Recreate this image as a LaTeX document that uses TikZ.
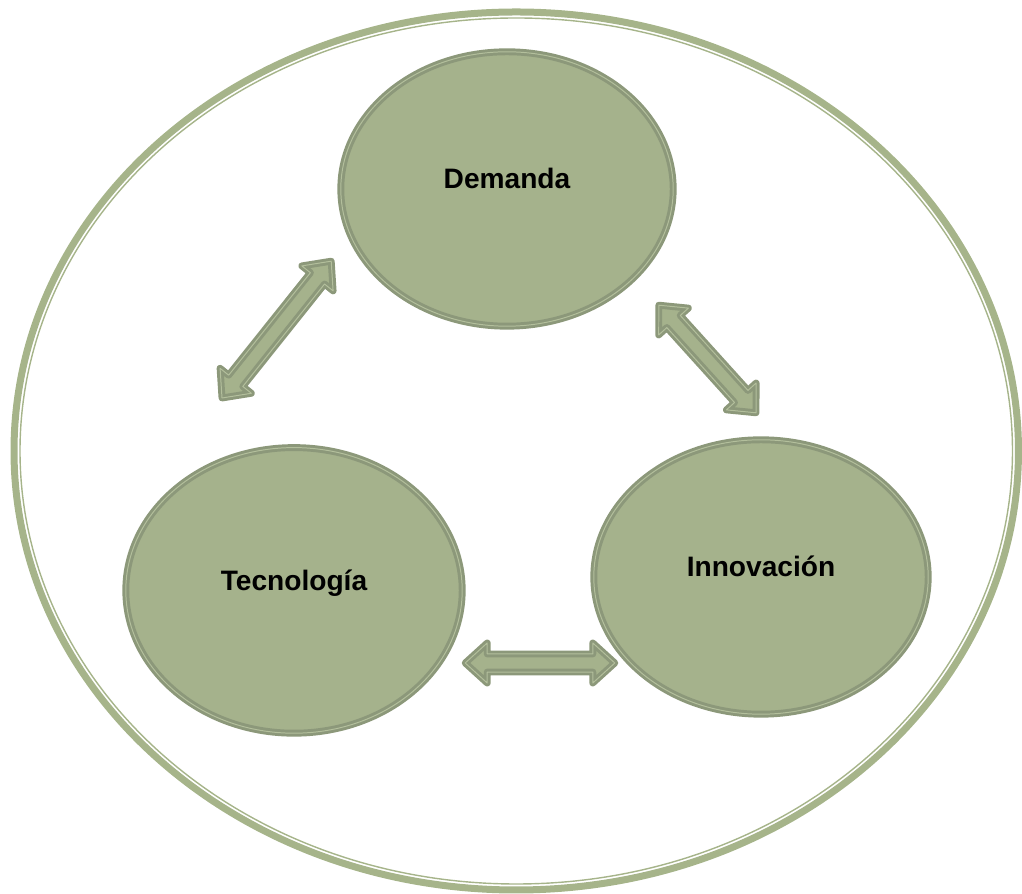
\documentclass[tikz,border=0pt]{standalone}
\usepackage{fontspec}
\setmainfont{Liberation Sans}
\usepackage{xcolor}
\usepackage{tikz}
\usetikzlibrary{shapes.geometric, calc}
\definecolor{bubfill}{HTML}{A5B28C}
\definecolor{bubdark}{HTML}{8C987A}
\definecolor{bubline}{HTML}{B3BF9C}
\definecolor{ringcol}{HTML}{A6B48A}
\tikzset{
  bubble/.style={ellipse, draw=bubdark, double=bubline, double distance=0.7pt,
    line width=2.1pt, fill=bubfill, inner sep=0pt,
    font=\bfseries\fontsize{20}{24}\selectfont, text height=0.6cm, text depth=0.6cm},
  dblarrow/.style={draw=bubdark, double=bubline, double distance=0.7pt,
    line width=2.1pt, fill=bubfill, line join=round,
    to path={let \p1=($(\tikztostart)!0.55cm!(\tikztotarget)$),
                 \p2=($(\tikztotarget)!0.55cm!(\tikztostart)$) in
      -- ($(\p1)!0.5cm!-90:(\tikztotarget)$)
      -- ($(\p1)!0.226cm!-90:(\tikztotarget)$)
      -- ($(\p2)!0.226cm!90:(\tikztostart)$)
      -- ($(\p2)!0.5cm!90:(\tikztostart)$)
      -- (\tikztotarget)
      -- ($(\p2)!0.5cm!-90:(\tikztostart)$)
      -- ($(\p2)!0.226cm!-90:(\tikztostart)$)
      -- ($(\p1)!0.226cm!90:(\tikztotarget)$)
      -- ($(\p1)!0.5cm!90:(\tikztotarget)$)
      -- cycle}}
}
\begin{document}
\begin{tikzpicture}
\useasboundingbox (0,0) rectangle (25.55,22.35);

% ---------------- outer ring ----------------
\draw[ringcol, line width=0.175cm] (12.906,11.075) ellipse (12.556 and 10.975);
\draw[ringcol, line width=1pt] (12.906,11.075) ellipse (12.406 and 10.825);

% ---------------- bubbles ----------------
\node[bubble, minimum width=8.31cm, minimum height=6.86cm] (dem) at (12.675,17.625) {Demanda};
\node[bubble, minimum width=8.41cm, minimum height=7.14cm] (tec) at (7.35,7.59) {Tecnología};
\node[bubble, minimum width=8.36cm, minimum height=6.86cm] (inn) at (19.025,7.925) {Innovación};

% ---------------- arrows ----------------
\coordinate (tecup) at (5.55,12.4);
\coordinate (demleft) at (8.28,15.82);
\coordinate (demright) at (16.47,14.72);
\coordinate (innup) at (18.9,12.03);
\coordinate (tecright) at (11.63,5.775);
\coordinate (innleft) at (15.37,5.775);
\draw[dblarrow] (tecup) to (demleft);
\draw[dblarrow] (demright) to (innup);
\draw[dblarrow] (tecright) to (innleft);
\end{tikzpicture}
\end{document}
